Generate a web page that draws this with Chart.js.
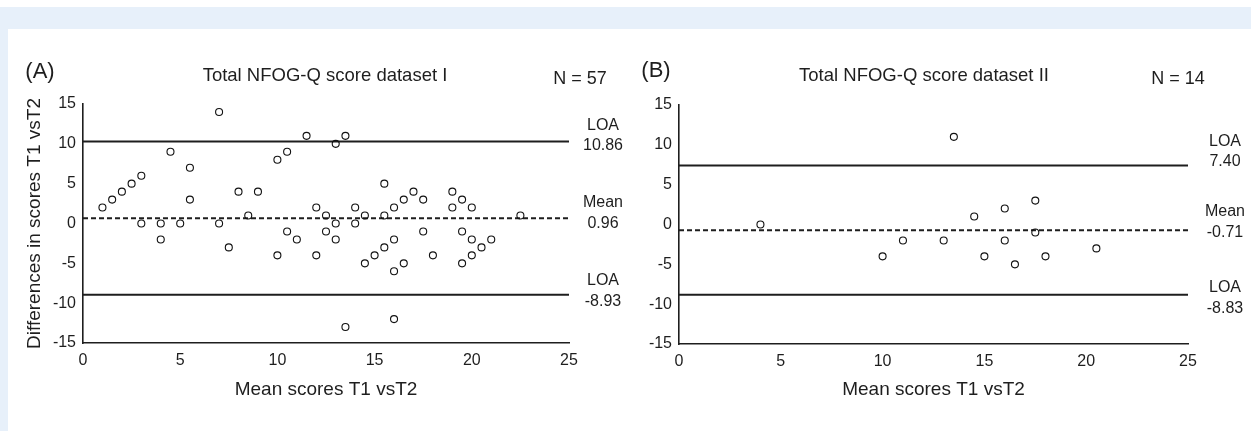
<!DOCTYPE html>
<html><head><meta charset="utf-8">
<script src="https://cdn.jsdelivr.net/npm/chart.js@4/dist/chart.umd.min.js"></script>
<style>
html,body{margin:0;padding:0;background:#fff;}
#wrap{position:relative;width:1251px;height:431px;overflow:hidden;background:#fff;font-family:"Liberation Sans",Arial,sans-serif;color:#1e1e1e;}
.band{position:absolute;background:#e7f0fa;}
.t{position:absolute;white-space:nowrap;transform:translate(-50%,-50%);line-height:1;}
canvas{position:absolute;left:0;top:0;}
</style></head><body>
<div id="wrap">
  <div class="band" style="left:0;top:7px;width:1251px;height:22px"></div>
  <div class="band" style="left:0;top:29px;width:8px;height:402px"></div>
  <div style="position:absolute;left:8px;top:29px;width:612px;height:402px"><canvas id="cA" width="612" height="402"></canvas></div>
  <div style="position:absolute;left:620px;top:29px;width:631px;height:402px"><canvas id="cB" width="631" height="402"></canvas></div>

  <div class="t" style="left:40px;top:71px;font-size:22px">(A)</div>
  <div class="t" style="left:325px;top:75px;font-size:18.5px">Total NFOG-Q score dataset I</div>
  <div class="t" style="left:580px;top:78px;font-size:18px">N = 57</div>
  <div class="t" style="left:603px;top:125px;font-size:16px">LOA</div>
  <div class="t" style="left:603px;top:145px;font-size:16px">10.86</div>
  <div class="t" style="left:603px;top:202px;font-size:16px">Mean</div>
  <div class="t" style="left:603px;top:223px;font-size:16px">0.96</div>
  <div class="t" style="left:603px;top:280px;font-size:16px">LOA</div>
  <div class="t" style="left:603px;top:301px;font-size:16px">-8.93</div>

  <div class="t" style="left:656px;top:70px;font-size:22px">(B)</div>
  <div class="t" style="left:924px;top:75px;font-size:18.5px">Total NFOG-Q score dataset II</div>
  <div class="t" style="left:1178px;top:78px;font-size:18px">N = 14</div>
  <div class="t" style="left:1225px;top:141px;font-size:16px">LOA</div>
  <div class="t" style="left:1225px;top:161px;font-size:16px">7.40</div>
  <div class="t" style="left:1225px;top:211px;font-size:16px">Mean</div>
  <div class="t" style="left:1225px;top:232px;font-size:16px">-0.71</div>
  <div class="t" style="left:1225px;top:287px;font-size:16px">LOA</div>
  <div class="t" style="left:1225px;top:308px;font-size:16px">-8.83</div>
</div>
<script>
// ---- data ----
const xTicks = [0, 5, 10, 15, 20, 25];
const yTicks = [-15, -10, -5, 0, 5, 10, 15];

const meansA = [1,1.5,2,2.5,3,3,4,4,4.5,5,5.5,5.5,7,7,7.5,8,8.5,9,10,10,10.5,10.5,11,11.5,12,12,12.5,12.5,13,13,13,13.5,13.5,14,14,14.5,14.5,15,15.5,15.5,15.5,16,16,16,16,16.5,16.5,17,17.5,17.5,18,19,19,19.5,19.5,19.5,20,20,20,20.5,21,22.5];
const diffsA = [2,3,4,5,6,0,0,-2,9,0,7,3,14,0,-3,4,1,4,8,-4,9,-1,-2,11,2,-4,1,-1,10,0,-2,11,-13,2,0,1,-5,-4,5,1,-3,2,-2,-6,-12,3,-5,4,3,-1,-4,4,2,3,-1,-5,2,-2,-4,-3,-2,1];
const linesA = [10.3, 0.65, -8.93];   // upper LOA, mean, lower LOA (as drawn)

const meansB = [4,10,11,13,13.5,14.5,15,16,16,16.5,17.5,17.5,18,20.5];
const diffsB = [0,-4,-2,-2,11,1,-4,2,-2,-5,3,-1,-4,-3];
const linesB = [7.40, -0.71, -8.83];

const xTitle = 'Mean scores T1 vsT2';
const yTitle = 'Differences in scores T1 vsT2';

// ---- chart builder ----
const FONT = '"Liberation Sans", Arial, sans-serif';
const INK = '#1e1e1e';

function makeChart(id, means, diffs, lines, cfg) {
  const pts = means.map((m, i) => ({x: m, y: diffs[i]}));
  const lineSets = lines.map((v, i) => ({
    type: 'scatter',
    data: [{x: xTicks[0], y: v}, {x: xTicks[xTicks.length - 1], y: v}],
    showLine: true,
    borderColor: INK,
    borderWidth: 2,
    borderDash: i === 1 ? [5, 3] : [],
    pointRadius: 0,
    pointHoverRadius: 0,
    fill: false,
    order: 2
  }));
  return new Chart(document.getElementById(id), {
    type: 'scatter',
    data: {
      datasets: [
        ...lineSets,
        {
          data: pts,
          pointStyle: 'circle',
          pointRadius: 3.5,
          pointBorderWidth: 1.1,
          pointBackgroundColor: 'rgba(255,255,255,0)',
          pointBorderColor: '#111',
          showLine: false,
          order: 1
        }
      ]
    },
    options: {
      responsive: false,
      animation: false,
      events: [],
      layout: {padding: {left: 0, top: cfg.top, right: cfg.right, bottom: 0}},
      plugins: {legend: {display: false}, title: {display: false}, tooltip: {enabled: false}},
      scales: {
        x: {
          type: 'linear',
          min: xTicks[0], max: xTicks[xTicks.length - 1],
          grid: {display: false, drawTicks: false},
          border: {display: true, color: INK, width: 1.6},
          ticks: {stepSize: 5, padding: 8, color: INK, font: {family: FONT, size: 16}},
          title: {display: true, text: xTitle, color: INK, font: {family: FONT, size: 19}, padding: {top: 0, bottom: 30}},
          afterFit: s => { s.height = cfg.xh; }
        },
        y: {
          type: 'linear',
          min: yTicks[0], max: yTicks[yTicks.length - 1],
          grid: {display: false, drawTicks: false},
          border: {display: true, color: INK, width: 1.6},
          ticks: {stepSize: 5, padding: 7, color: INK, font: {family: FONT, size: 16}},
          title: {display: cfg.yTitle, text: yTitle, color: INK, font: {family: FONT, size: 19}, padding: {top: 15, bottom: 0}},
          afterFit: s => { s.width = cfg.yw; }
        }
      }
    }
  });
}

makeChart('cA', meansA, diffsA, linesA, {top: 75, right: 51, xh: 88, yw: 75, yTitle: true});
makeChart('cB', meansB, diffsB, linesB, {top: 76, right: 63, xh: 87, yw: 59, yTitle: false});
</script>
</body></html>
